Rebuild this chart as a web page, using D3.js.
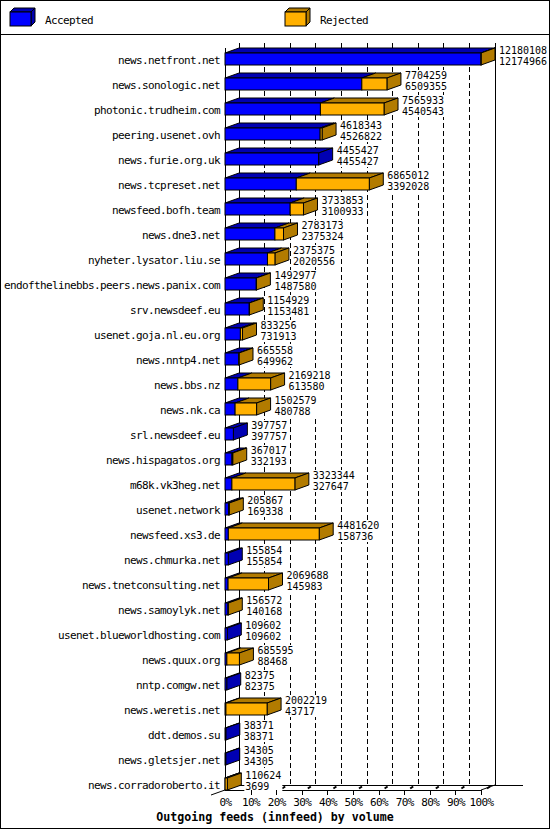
<!DOCTYPE html>
<html>
<head>
<meta charset="utf-8">
<script src="https://cdn.jsdelivr.net/npm/d3@7"></script>
<style>
  body { margin: 0; background: #fff; }
  svg { display: block; }
</style>
</head>
<body>
<div id="chart"></div>
<script>
// Feed names, top to bottom
const hosts = [
    "news.netfront.net", "news.sonologic.net", "photonic.trudheim.com", "peering.usenet.ovh",
    "news.furie.org.uk", "news.tcpreset.net", "newsfeed.bofh.team", "news.dne3.net",
    "nyheter.lysator.liu.se", "endofthelinebbs.peers.news.panix.com", "srv.newsdeef.eu",
    "usenet.goja.nl.eu.org", "news.nntp4.net", "news.bbs.nz", "news.nk.ca", "srl.newsdeef.eu",
    "news.hispagatos.org", "m68k.vk3heg.net", "usenet.network", "newsfeed.xs3.de",
    "news.chmurka.net", "news.tnetconsulting.net", "news.samoylyk.net",
    "usenet.blueworldhosting.com", "news.quux.org", "nntp.comgw.net", "news.weretis.net",
    "ddt.demos.su", "news.gletsjer.net", "news.corradoroberto.it"
];
// Offered (upper number)
const totals = [
    12180108, 7704259, 7565933, 4618343, 4455427, 6865012, 3733853, 2783173,
    2375375, 1492977, 1154929, 833256, 665558, 2169218, 1502579, 397757,
    367017, 3323344, 205867, 4481620, 155854, 2069688, 156572, 109602,
    685595, 82375, 2002219, 38371, 34305, 110624
];
// Accepted (lower number)
const accepted = [
    12174966, 6509355, 4540543, 4526822, 4455427, 3392028, 3100933, 2375324,
    2020556, 1487580, 1153481, 731913, 649962, 613580, 480788, 397757,
    332193, 327647, 169338, 158736, 155854, 145983, 140168, 109602,
    88468, 82375, 43717, 38371, 34305, 3699
];
const tickLabels = ["0%", "10%", "20%", "30%", "40%", "50%", "60%", "70%", "80%", "90%", "100%"];
const seriesNames = ["Accepted", "Rejected"];
const chartTitle = "Outgoing feeds (innfeed) by volume";

function init() {
    const w = 550;
    const h = 830;
    const left = 225, right = 481;   // front plane
    const dx = 14, dy = 5;           // 3d depth
    const half = 6;                  // half bar height
    const floorY = 790;
    const backTop = 43;
    const font = "'DejaVu Sans Mono', 'Liberation Mono', monospace";
    const fsize = "11px", fspace = "-0.62px"; // ~6px per char like the gd font

    const colors = ["#0000ff", "#ffb000"];
    const shades = ["#0000b2", "#b27b00"];

    const svg = d3.select("#chart").append("svg")
        .attr("width", w)
        .attr("height", h);

    // frame + legend separator
    svg.append("rect")
        .attr("x", 0.5).attr("y", 0.5)
        .attr("width", w - 1).attr("height", h - 2)
        .attr("fill", "#fff").attr("stroke", "#000");
    svg.append("line")
        .attr("x1", 0).attr("x2", w).attr("y1", 34.5).attr("y2", 34.5)
        .attr("stroke", "#000");

    // legend cubes
    const legend = svg.append("g");
    seriesNames.forEach((name, i) => {
        const lx = 10 + i * 275, ly = 12, lw = 21, lh = 14, d = 4;
        const g = legend.append("g").attr("stroke", "#000").attr("stroke-linejoin", "miter");
        g.append("polygon")
            .attr("points", [[lx, ly], [lx + d, ly - d], [lx + lw + d, ly - d], [lx + lw, ly]].join(" "))
            .attr("fill", shades[i]);
        g.append("polygon")
            .attr("points", [[lx + lw, ly], [lx + lw + d, ly - d], [lx + lw + d, ly + lh - d], [lx + lw, ly + lh]].join(" "))
            .attr("fill", shades[i]);
        g.append("rect")
            .attr("x", lx).attr("y", ly).attr("width", lw).attr("height", lh)
            .attr("fill", colors[i]);
        legend.append("text")
            .attr("x", lx + 35).attr("y", 24)
            .attr("font-family", font).attr("font-size", fsize)
            .attr("letter-spacing", fspace)
            .text(name);
    });

    // scales
    const maxTotal = d3.max(totals);
    const xScale = d3.scaleLinear().domain([0, maxTotal]).range([left, right]);
    const yScale = d3.scalePoint().domain(hosts).range([59, 784]);
    const tickValues = tickLabels.map((d, i) => maxTotal * i / 10);

    // back plane
    const back = svg.append("g").attr("stroke", "#000").attr("shape-rendering", "crispEdges");
    back.append("line")
        .attr("x1", left + dx).attr("x2", left + dx)
        .attr("y1", backTop).attr("y2", floorY - dy);
    back.append("line")
        .attr("x1", right + dx).attr("x2", right + dx)
        .attr("y1", backTop).attr("y2", floorY - dy);
    back.selectAll("line.grid")
        .data(tickValues.slice(1, -1))
        .enter()
        .append("line")
        .attr("class", "grid")
        .attr("x1", d => xScale(d) + dx).attr("x2", d => xScale(d) + dx)
        .attr("y1", backTop).attr("y2", floorY - dy)
        .attr("stroke-dasharray", "5,3");
    back.append("line")
        .attr("x1", left + dx).attr("x2", right + 2 * dx + 14)
        .attr("y1", floorY - dy).attr("y2", floorY - dy);

    // front left edge and floor
    const front = svg.append("g").attr("stroke", "#000");
    front.append("line")
        .attr("x1", left).attr("x2", left)
        .attr("y1", backTop + dy).attr("y2", floorY)
        .attr("shape-rendering", "crispEdges");
    front.append("line")
        .attr("x1", left).attr("x2", right)
        .attr("y1", floorY).attr("y2", floorY)
        .attr("shape-rendering", "crispEdges");
    front.append("line")
        .attr("x1", right).attr("y1", floorY)
        .attr("x2", right + dx).attr("y2", floorY - dy);
    front.append("line")
        .attr("x1", left + dx).attr("y1", floorY - dy)
        .attr("x2", left - dx).attr("y2", floorY + dy);
    // little depth marks along the floor
    front.selectAll("line.mark")
        .data(tickValues.slice(1))
        .enter()
        .append("line")
        .attr("class", "mark")
        .attr("x1", d => xScale(d) + 6).attr("y1", floorY - 1.5)
        .attr("x2", d => xScale(d) + 9).attr("y2", floorY - 3.5)
        .attr("stroke-width", 2);

    // bars
    const rows = hosts.map((name, i) => ({
        name: name,
        total: totals[i],
        accepted: accepted[i],
        rejected: totals[i] - accepted[i]
    }));

    const bars = svg.selectAll("g.bar")
        .data(rows)
        .enter()
        .append("g")
        .attr("class", "bar")
        .attr("stroke", "#000")
        .attr("stroke-linejoin", "miter");

    bars.each(function (d) {
        const g = d3.select(this);
        const c = yScale(d.name);
        const xa = xScale(d.accepted);
        const xt = xScale(d.total);
        const top = c - half, bot = c + half;
        const segs = [[left, xa, 0]];
        if (d.rejected > 0) segs.push([xa, xt, 1]);

        segs.forEach(([a, b, k]) => {
            g.append("polygon")
                .attr("points", [[a, top], [a + dx, top - dy], [b + dx, top - dy], [b, top]].join(" "))
                .attr("fill", shades[k]);
        });
        const lastK = d.rejected > 0 ? 1 : 0;
        g.append("polygon")
            .attr("points", [[xt, top], [xt + dx, top - dy], [xt + dx, bot - dy], [xt, bot]].join(" "))
            .attr("fill", shades[lastK]);
        segs.forEach(([a, b, k]) => {
            g.append("rect")
                .attr("x", a).attr("y", top)
                .attr("width", Math.max(0, b - a)).attr("height", bot - top)
                .attr("fill", colors[k]);
        });

        // value labels on a white box (hides the grid behind)
        const tx = xt + dx + 4;
        const len = Math.max(String(d.total).length, String(d.accepted).length);
        g.append("rect")
            .attr("x", tx - 1).attr("y", c - 14)
            .attr("width", len * 6 + 2).attr("height", 22)
            .attr("fill", "#fff").attr("stroke", "none");
        const t = g.append("g")
            .attr("stroke", "none")
            .attr("font-family", font)
            .attr("font-size", "10px")
            .attr("letter-spacing", "-0.02px");
        t.append("text").attr("x", tx).attr("y", c - 5.5).text(d.total);
        t.append("text").attr("x", tx).attr("y", c + 6).text(d.accepted);
    });

    // host labels
    const yAxis = svg.append("g")
        .attr("transform", `translate(${left},0)`)
        .call(d3.axisLeft(yScale).tickSize(0).tickPadding(5));
    yAxis.select(".domain").remove();
    yAxis.selectAll("text")
        .attr("dy", "0.4em")
        .attr("font-family", font)
        .attr("font-size", fsize)
        .attr("letter-spacing", fspace)
        .attr("fill", "#000");

    // percent axis
    const xAxis = svg.append("g")
        .attr("transform", `translate(0,${floorY})`)
        .call(d3.axisBottom(xScale)
            .tickValues(tickValues)
            .tickFormat((d, i) => tickLabels[i])
            .tickSize(5)
            .tickPadding(3));
    xAxis.select(".domain").remove();
    xAxis.selectAll(".tick line")
        .attr("stroke", "#000")
        .attr("shape-rendering", "crispEdges")
        .filter((d, i) => i === 0).remove();
    xAxis.selectAll("text")
        .attr("font-family", font)
        .attr("font-size", fsize)
        .attr("letter-spacing", fspace)
        .attr("fill", "#000");

    // title
    svg.append("text")
        .attr("x", w / 2)
        .attr("y", 821)
        .attr("text-anchor", "middle")
        .attr("font-family", font)
        .attr("font-size", "11.6px")
        .attr("font-weight", "bold")
        .text(chartTitle);
}

window.onload = init;
</script>
</body>
</html>
